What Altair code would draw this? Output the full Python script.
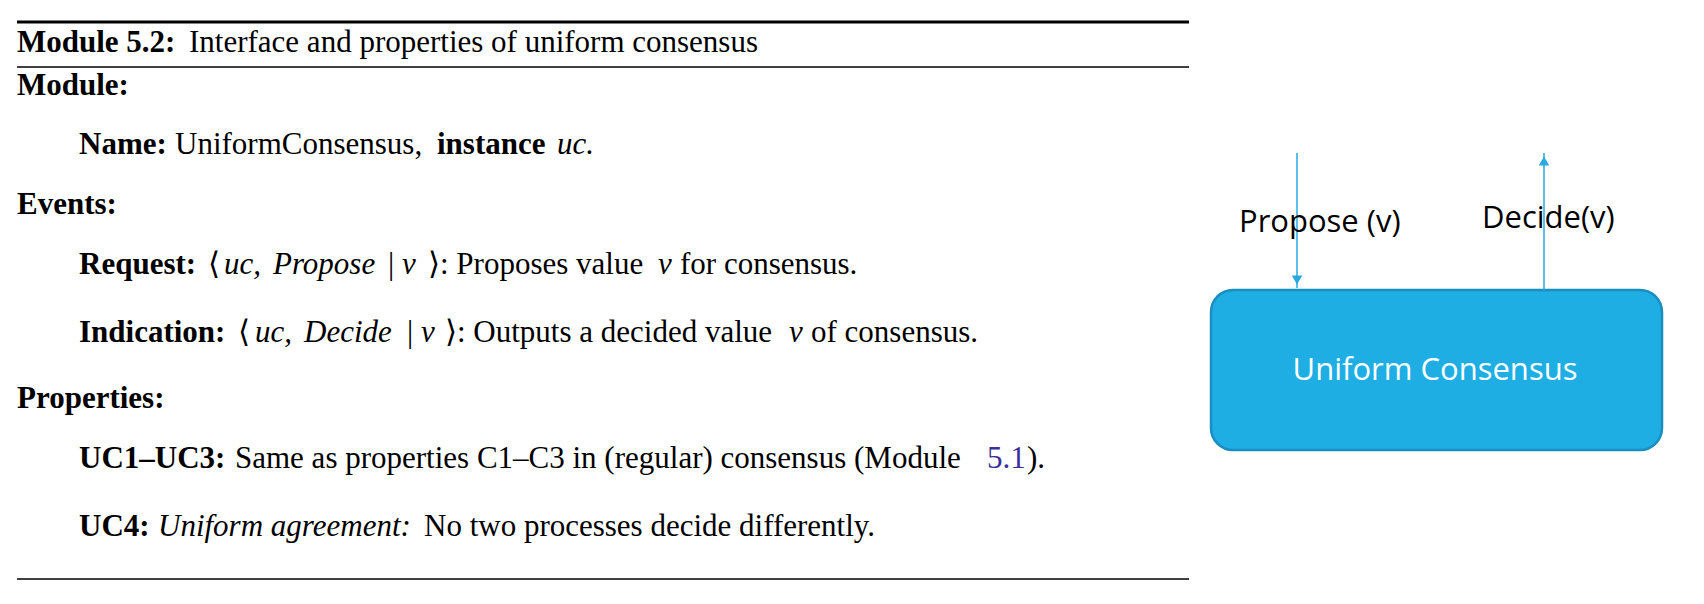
import altair as alt
import pandas as pd

# text segments of the module box: (text, x, y, style)
seg_text = [
    "Module 5.2:", "Interface and properties of uniform consensus",
    "Module:",
    "Name:", "UniformConsensus,", "instance", "uc.",
    "Events:",
    "Request:", "⟨", "uc,", "Propose", "|", "v", "⟩: Proposes value", "v", "for consensus.",
    "Indication:", "⟨", "uc,", "Decide", "|", "v", "⟩: Outputs a decided value", "v", "of consensus.",
    "Properties:",
    "UC1–UC3:", "Same as properties C1–C3 in (regular) consensus (Module", "5.1", ").",
    "UC4:", "Uniform agreement:", "No two processes decide differently.",
]
seg_x = [
    17, 189,
    17,
    79, 175, 437, 557,
    17,
    79, 208, 224, 273, 388, 402, 428, 658, 680,
    79, 238, 255, 304, 407, 421, 445, 789, 811,
    17,
    79, 235, 987, 1027,
    79, 158, 424,
]
seg_y = [
    43, 43,
    86,
    145, 145, 145, 145,
    205,
    265, 265, 265, 265, 265, 265, 265, 265, 265,
    333, 333, 333, 333, 333, 333, 333, 333, 333,
    399,
    459, 459, 459, 459,
    527, 527, 527,
]
seg_style = [
    "bold", "regular",
    "bold",
    "bold", "regular", "bold", "italic",
    "bold",
    "bold", "regular", "italic", "italic", "regular", "italic", "regular", "italic", "regular",
    "bold", "regular", "italic", "italic", "regular", "italic", "regular", "italic", "regular",
    "bold",
    "bold", "regular", "link", "regular",
    "bold", "italic", "regular",
]

# horizontal rules
rule_y = [22, 67, 579]
rule_w = [3, 1.5, 1.5]

# diagram
box = pd.DataFrame({"x": [1211], "x2": [1662], "y": [290], "y2": [450]})
arrows = pd.DataFrame({"x": [1297, 1544], "y": [153, 153], "y2": [288, 290]})
heads = pd.DataFrame({"x": [1297, 1544], "y": [280, 161], "shape": ["triangle-down", "triangle-up"]})
labels = pd.DataFrame({"text": ["Propose (v)", "Decide(v)"], "x": [1239, 1482], "y": [223, 219]})

segs = pd.DataFrame({"text": seg_text, "x": seg_x, "y": seg_y, "style": seg_style})
rules = pd.DataFrame({"y": rule_y, "w": rule_w, "x": [17] * 3, "x2": [1189] * 3})

X = alt.Scale(domain=[8, 1696])
Y = alt.Scale(domain=[8, 596], reverse=True)
x = alt.X("x:Q", scale=X, axis=None)
y = alt.Y("y:Q", scale=Y, axis=None)

serif = "Liberation Serif"
FS = 31

def text_layer(style, **kw):
    return alt.Chart(segs[segs["style"] == style]).mark_text(
        align="left", baseline="middle", font=serif, fontSize=FS, **kw
    ).encode(x=x, y=y, text="text:N")

layers = [
    alt.Chart(rules).mark_rule(color="black").encode(
        x=x, x2="x2:Q", y=y, strokeWidth=alt.StrokeWidth("w:Q", scale=None)),
    text_layer("regular", color="black"),
    text_layer("bold", color="black", fontWeight="bold"),
    text_layer("italic", color="black", fontStyle="italic"),
    text_layer("link", color="#3a2f9b"),
    alt.Chart(box).mark_rect(cornerRadius=22, color="#1eaee3", stroke="#1a8ec0",
                             strokeWidth=2.5).encode(x=x, x2="x2:Q", y=y, y2="y2:Q"),
    alt.Chart(arrows).mark_rule(color="#29a8e0", strokeWidth=1.5).encode(x=x, y=y, y2="y2:Q"),
    alt.Chart(heads).mark_point(filled=True, color="#29a8e0", size=110, opacity=1).encode(
        x=x, y=y, shape=alt.Shape("shape:N", scale=None)),
    alt.Chart(labels).mark_text(align="left", baseline="middle", font="Open Sans",
                                fontSize=31, color="black").encode(x=x, y=y, text="text:N"),
    alt.Chart(pd.DataFrame({"text": ["Uniform Consensus"], "x": [1435], "y": [371]})).mark_text(
        align="center", baseline="middle", font="Open Sans", fontSize=31, color="white"
    ).encode(x=x, y=y, text="text:N"),
]

chart = alt.layer(*layers).properties(
    width=1688, height=588, autosize=alt.AutoSizeParams(type="none"), padding=0
).configure_view(stroke=None)

chart.save("out.html", embed_options={"renderer": "svg", "actions": False})
